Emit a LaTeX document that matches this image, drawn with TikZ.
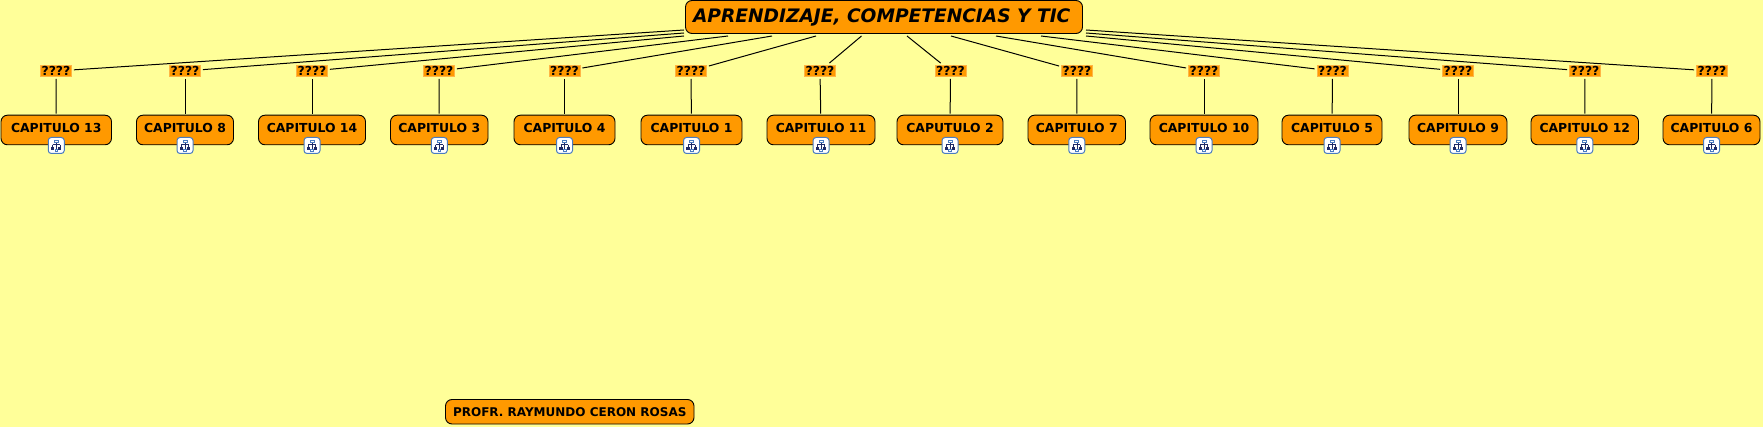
\documentclass[tikz,border=0pt]{standalone}
\usepackage{fontspec}
\setmainfont{DejaVu Sans}
\definecolor{bgyellow}{HTML}{FFFF99}
\definecolor{boxorange}{HTML}{FF9900}
\definecolor{halo}{HTML}{FFB545}
\definecolor{iconblue}{HTML}{4A7CC0}
\definecolor{iconnavy}{HTML}{1E2A66}
\tikzset{
  x=1pt,y=-1pt,
  capbox/.style={draw=black,fill=boxorange,line width=0.9pt,rounded corners=6.5pt,inner sep=0pt,outer sep=1.5pt,
    font=\fontsize{12.4}{14}\selectfont\bfseries,text height=17.3pt,text depth=12.3pt,align=center},
  rootbox/.style={draw=black,fill=boxorange,line width=0.9pt,rounded corners=6.5pt,inner sep=0pt,
    font=\fontsize{18.6}{22}\selectfont\bfseries\itshape,minimum width=397pt,minimum height=33pt,
    text height=22pt,text depth=11pt},
  footbox/.style={draw=black,fill=boxorange,line width=0.9pt,rounded corners=6.5pt,inner sep=0pt,
    font=\fontsize{12}{14}\selectfont\bfseries,minimum width=248.5pt,minimum height=24.5pt},
  tag/.style={draw=halo,fill=boxorange,line width=0.8pt,inner sep=0pt,outer sep=2.4pt,minimum width=31pt,minimum height=11pt,
    font=\fontsize{12.4}{14}\selectfont\bfseries},
  iconbox/.style={draw=iconblue,fill=white,line width=1pt,rounded corners=3pt,minimum size=16pt,inner sep=0pt},
  link/.style={draw=black,line width=1pt},
  treeicon/.pic={
    \draw[iconnavy,line width=0.5pt] (0,-3) -- (0,4) (-3.6,-0.8) -- (3.6,-0.8) (-3.6,-0.8) -- (-3.6,2) (3.6,-0.8) -- (3.6,2);
    \draw[iconblue,fill=white,line width=0.7pt] (-2,-5) rectangle (2,-2.8);
    \fill[iconnavy] (-5.2,2) rectangle (-2,4.8);
    \fill[iconnavy] (2,2) rectangle (5.2,4.8);
    \draw[iconblue,fill=white,line width=0.6pt] (-1.4,3.8) rectangle (1.4,5.6);
  },
}
\begin{document}
\begin{tikzpicture}
\useasboundingbox (0,0) rectangle (1763,427);
\fill[bgyellow] (0,0) rectangle (1763,427);
\node[rootbox] (root) at (884,17) {\hspace*{-4.6pt}APRENDIZAJE, COMPETENCIAS Y TIC};
\node[footbox] (foot) at (569.75,411.75) {PROFR. RAYMUNDO CERON ROSAS};
% name / left / right / text / tag x / root end x / root end y
\foreach \n/\xl/\xr/\t/\lx/\rx/\ry in {
  a/1/111.5/CAPITULO 13/56/684/30,
  b/136.5/233.5/CAPITULO 8/185/684/33,
  c/258.5/365.5/CAPITULO 14/312/684/36,
  d/390.5/488/CAPITULO 3/439/728/36,
  e/514/615/CAPITULO 4/564.5/772/36,
  f/641/742/CAPITULO 1/691/816/36,
  g/767/875/CAPITULO 11/820/861.5/36,
  h/897/1003/CAPUTULO 2/950.5/907/36,
  i/1028/1125.5/CAPITULO 7/1077/951/36,
  j/1150/1258/CAPITULO 10/1204/996/36,
  k/1282/1382/CAPITULO 5/1332.5/1041/36,
  l/1409/1507/CAPITULO 9/1458/1086/36,
  m/1531/1638.5/CAPITULO 12/1585/1086/33,
  n/1663/1760/CAPITULO 6/1712/1086/30}
{
  \pgfmathsetmacro{\bw}{\xr-\xl}
  \pgfmathsetmacro{\bx}{(\xr+\xl)/2}
  \node[capbox,minimum width=\bw pt] (box\n) at (\bx,130) {\t};
  \node[tag] (tag\n) at (\lx,71) {????};
  \coordinate (end\n) at (\rx,\ry);
  \draw[link] (end\n) -- (tag\n);
  \draw[link] (tag\n) -- (box\n);
  \node[iconbox] (icon\n) at (\bx,145.5) {};
  \pic at (icon\n) {treeicon};
}
\end{tikzpicture}
\end{document}
